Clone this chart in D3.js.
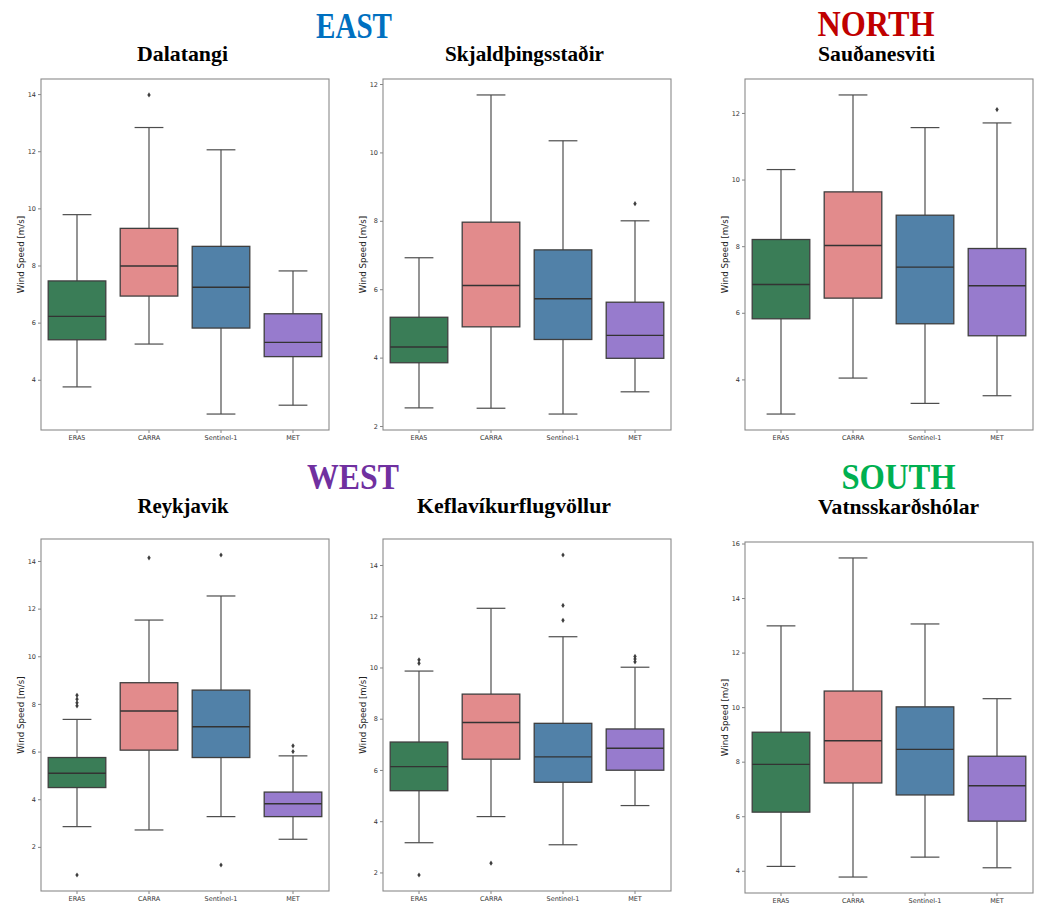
<!DOCTYPE html>
<html>
<head>
<meta charset="utf-8">
<title>Wind Speed by Station</title>
<script src="https://d3js.org/d3.v7.min.js"></script>
<style>
  body { margin: 0; background: #fff; }
  .tick text { font-family: "DejaVu Sans", sans-serif; fill: #333; }
</style>
</head>
<body>
<svg id="chart"></svg>
<script>
// ---- data ----
const sources = ["ERA5", "CARRA", "Sentinel-1", "MET"];
const regions = ["EAST", "NORTH", "WEST", "SOUTH"];
const stations = ["Dalatangi", "Skjaldþingsstaðir", "Sauðanesviti", "Reykjavik", "Keflavíkurflugvöllur", "Vatnsskarðshólar"];

// [lower whisker, Q1, median, Q3, upper whisker] per source
const dalatangiStats = [[3.75, 5.40, 6.22, 7.46, 9.78], [5.25, 6.93, 7.98, 9.30, 12.83], [2.80, 5.81, 7.24, 8.67, 12.05], [3.11, 4.81, 5.31, 6.31, 7.81]];
const dalatangiOutliers = [[], [13.97], [], []];

const skjaldStats = [[2.53, 3.85, 4.31, 5.18, 6.92], [2.52, 4.90, 6.11, 7.96, 11.68], [2.35, 4.53, 5.72, 7.15, 10.34], [3.00, 3.98, 4.65, 5.62, 8.00]];
const skjaldOutliers = [[], [], [], [8.50]];

const saudStats = [[2.96, 5.82, 6.85, 8.20, 10.30], [4.04, 6.44, 8.02, 9.63, 12.54], [3.28, 5.67, 7.37, 8.93, 11.56], [3.51, 5.31, 6.81, 7.93, 11.70]];
const saudOutliers = [[], [], [], [12.10]];

const reykStats = [[2.85, 4.49, 5.09, 5.75, 7.35], [2.71, 6.06, 7.70, 8.89, 11.52], [3.27, 5.75, 7.04, 8.58, 12.53], [2.32, 3.27, 3.81, 4.30, 5.82]];
const reykOutliers = [[0.82, 7.92, 8.05, 8.20, 8.36], [14.13], [1.24, 14.25], [6.00, 6.24]];

const keflStats = [[3.16, 5.19, 6.13, 7.09, 9.86], [4.18, 6.42, 7.85, 8.96, 12.31], [3.08, 5.52, 6.51, 7.82, 11.20], [4.61, 5.99, 6.85, 7.60, 10.01]];
const keflOutliers = [[1.90, 10.16, 10.30], [2.36], [11.84, 12.42, 14.39], [10.22, 10.33, 10.43]];

const vatnStats = [[4.16, 6.15, 7.90, 9.08, 12.98], [3.77, 7.22, 8.77, 10.59, 15.47], [4.50, 6.78, 8.45, 10.01, 13.05], [4.11, 5.82, 7.12, 8.20, 10.31]];
const vatnOutliers = [[], [], [], []];

const allStats = [dalatangiStats, skjaldStats, saudStats, reykStats, keflStats, vatnStats];
const allOutliers = [dalatangiOutliers, skjaldOutliers, saudOutliers, reykOutliers, keflOutliers, vatnOutliers];

// ---- layout / style ----
const W = 1038, H = 904;
const boxColors = ["#3a7d57", "#e28b8c", "#5181a8", "#977bcd"];
const regionColors = ["#0070C0", "#C00000", "#7030A0", "#00B050"];
// [left, top, right, bottom]
const panelFrames = [
    [41, 79, 329, 430],
    [383, 79, 671, 430],
    [745, 79, 1033, 430],
    [41, 539, 329, 891],
    [383, 539, 671, 891],
    [745, 542, 1033, 893]
];
// [centre x, baseline y, width]
const titlePos = [[182.5, 61, 91], [524.5, 61, 159], [876.5, 61, 117], [183, 513, 91], [514, 513, 194], [898.5, 514, 161]];
const headerPos = [[354, 38, 76], [876, 35.5, 117], [353, 489, 92], [898.5, 489, 114]];

const svg = d3.select("#chart").attr("width", W).attr("height", H);

// region headers
svg.selectAll("text.region")
    .data(regions)
    .join("text")
    .attr("class", "region")
    .attr("x", (d, i) => headerPos[i][0] - headerPos[i][2] / 2)
    .attr("y", (d, i) => headerPos[i][1])
    .attr("textLength", (d, i) => headerPos[i][2])
    .attr("lengthAdjust", "spacingAndGlyphs")
    .style("font-family", "'Liberation Serif', serif")
    .style("font-weight", "bold")
    .style("font-size", "35px")
    .style("fill", (d, i) => regionColors[i])
    .text(d => d);

const diamond = "M0,-2.6L1.7,0L0,2.6L-1.7,0Z";

stations.forEach((name, p) => {
    const [left, top, right, bottom] = panelFrames[p];
    const stats = allStats[p];
    const outs = allOutliers[p];
    const g = svg.append("g");

    // title
    g.append("text")
        .attr("x", titlePos[p][0] - titlePos[p][2] / 2)
        .attr("y", titlePos[p][1])
        .attr("textLength", titlePos[p][2])
        .attr("lengthAdjust", "spacingAndGlyphs")
        .style("font-family", "'Liberation Serif', serif")
        .style("font-weight", "600")
        .style("font-size", "21px")
        .style("fill", "#000")
        .text(name);

    const vals = stats.flat().concat(outs.flat());
    const lo = d3.min(vals), hi = d3.max(vals);
    const pad = (hi - lo) * 0.05;

    const y = d3.scaleLinear().domain([lo - pad, hi + pad]).range([bottom, top]);
    const x = d3.scaleBand().domain(sources).range([left, right]).padding(0);
    const bw = x.bandwidth();
    const boxW = bw * 0.8, capW = bw * 0.4;

    const yTicks = d3.range(0, 20, 2).filter(v => v >= y.domain()[0] && v <= y.domain()[1]);

    const yAxis = g.append("g")
        .attr("transform", `translate(${left},0)`)
        .call(d3.axisLeft(y).tickValues(yTicks).tickFormat(d3.format("d")).tickSize(3).tickPadding(2));
    const xAxis = g.append("g")
        .attr("transform", `translate(0,${bottom})`)
        .call(d3.axisBottom(x).tickSize(3).tickPadding(2));
    [yAxis, xAxis].forEach(a => {
        a.select(".domain").remove();
        a.selectAll(".tick line").attr("stroke", "#666").attr("stroke-width", 0.8);
        a.selectAll(".tick text").style("font-size", "6.5px");
    });

    // y label
    g.append("text")
        .attr("transform", `translate(${left - 20},${(top + bottom) / 2}) rotate(-90)`)
        .attr("text-anchor", "middle")
        .attr("dy", "0.35em")
        .style("font-family", "'DejaVu Sans', sans-serif")
        .style("font-size", "8.7px")
        .style("fill", "#222")
        .text("Wind Speed [m/s]");

    sources.forEach((s, i) => {
        const [w0, q1, med, q3, w1] = stats[i];
        const cx = x(s) + bw / 2;
        const line = "#4d4d4d";
        // whiskers
        g.append("line").attr("x1", cx).attr("x2", cx).attr("y1", y(w0)).attr("y2", y(q1))
            .attr("stroke", line).attr("stroke-width", 1.2);
        g.append("line").attr("x1", cx).attr("x2", cx).attr("y1", y(q3)).attr("y2", y(w1))
            .attr("stroke", line).attr("stroke-width", 1.2);
        g.append("line").attr("x1", cx - capW / 2).attr("x2", cx + capW / 2).attr("y1", y(w0)).attr("y2", y(w0))
            .attr("stroke", line).attr("stroke-width", 1.2);
        g.append("line").attr("x1", cx - capW / 2).attr("x2", cx + capW / 2).attr("y1", y(w1)).attr("y2", y(w1))
            .attr("stroke", line).attr("stroke-width", 1.2);
        // box
        g.append("rect")
            .attr("x", cx - boxW / 2).attr("width", boxW)
            .attr("y", y(q3)).attr("height", y(q1) - y(q3))
            .attr("fill", boxColors[i])
            .attr("stroke", "#3f3f3f").attr("stroke-width", 1.3);
        g.append("line").attr("x1", cx - boxW / 2).attr("x2", cx + boxW / 2).attr("y1", y(med)).attr("y2", y(med))
            .attr("stroke", "#333").attr("stroke-width", 1.4);
        // outliers
        g.selectAll(null)
            .data(outs[i])
            .join("path")
            .attr("d", diamond)
            .attr("transform", v => `translate(${cx},${y(v)})`)
            .attr("fill", "#3f3f3f");
    });

    // frame
    g.append("rect")
        .attr("x", left).attr("y", top)
        .attr("width", right - left).attr("height", bottom - top)
        .attr("fill", "none")
        .attr("stroke", "#8a8a8a")
        .attr("stroke-width", 1.1);
});
</script>
</body>
</html>
